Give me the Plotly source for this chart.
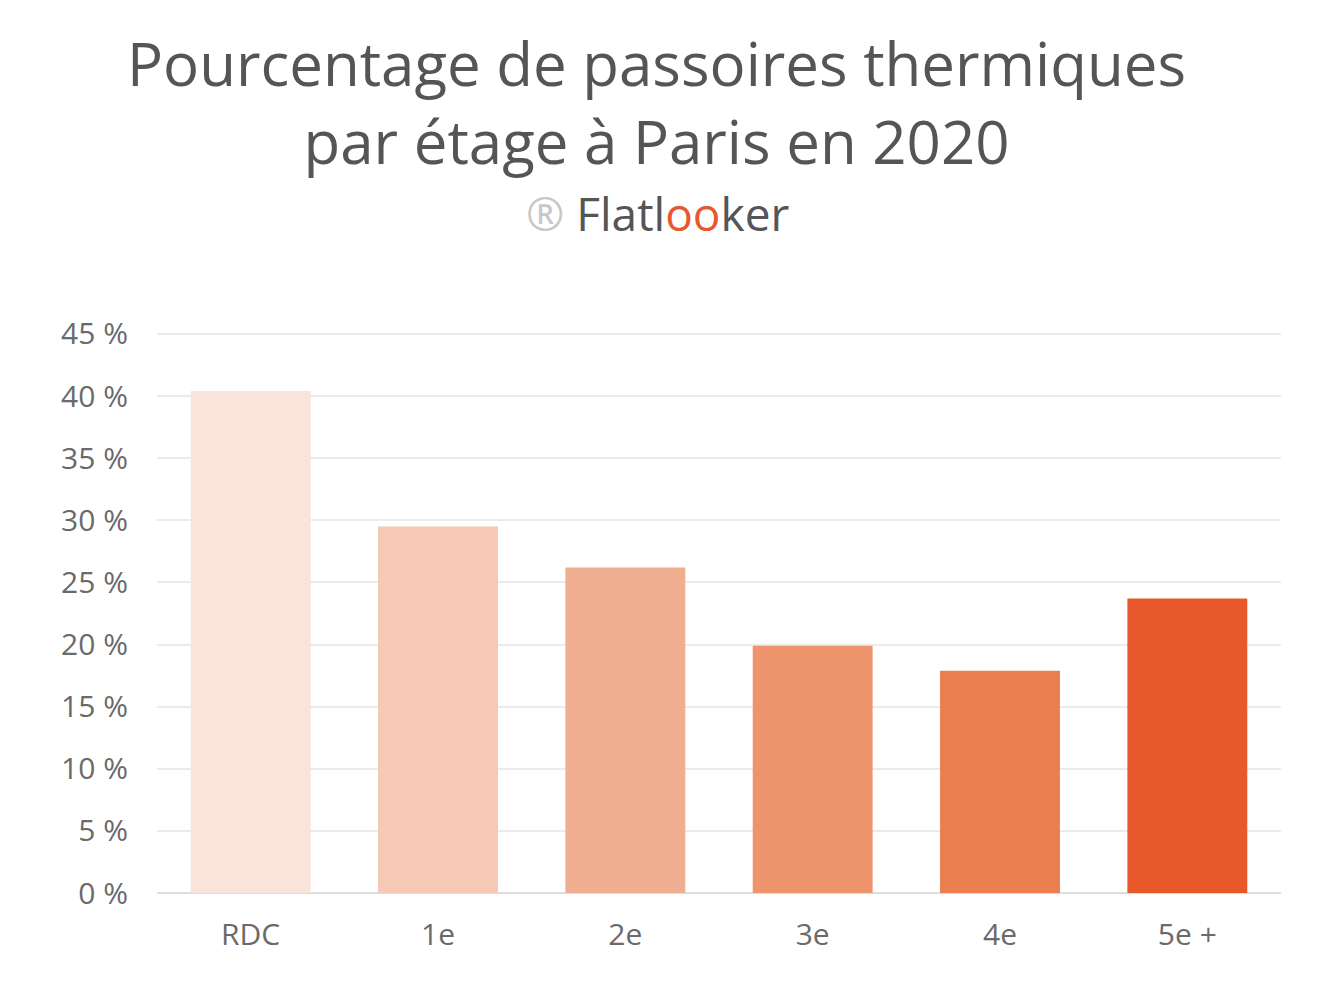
import plotly.graph_objects as go

categories = ["RDC", "1e", "2e", "3e", "4e", "5e +"]
values = [40.4, 29.5, 26.2, 19.9, 17.9, 23.7]
colors = ["#F9E3DA", "#F5C9B5", "#F0AE90", "#EE946D", "#EC7F50", "#E8582A"]
tick_vals = [0, 5, 10, 15, 20, 25, 30, 35, 40, 45]
tick_text = [f"{v} %" for v in tick_vals]

W, H = 1328, 988
M_L, M_R = 157, 47
M_T, M_B = 328, 95
plot_h = H - M_T - M_B
plot_w = W - M_L - M_R


def pix_to_paper_y(py):
    return (H - M_B - py) / plot_h


def pix_to_paper_x(px):
    return (px - M_L) / plot_w


fig = go.Figure(go.Bar(x=categories, y=values, marker=dict(color=colors, line=dict(width=0)),
                       hoverinfo="x+y"))

font_family = "'Open Sans', 'Noto Sans', sans-serif"
fig.update_layout(
    width=W, height=H,
    margin=dict(l=M_L, r=M_R, t=M_T, b=M_B),
    paper_bgcolor="white", plot_bgcolor="white",
    bargap=0.36,
    showlegend=False,
    font=dict(family=font_family, color="#666666"),
    xaxis=dict(showgrid=False, showline=False, ticks="", tickfont=dict(size=30, color="#6a6a6a"),
               ticklabelstandoff=21),
    yaxis=dict(range=[0, 45.48], tickvals=tick_vals, ticktext=tick_text, showgrid=True,
               gridcolor="#EBEBEB", gridwidth=2, zeroline=True, zerolinecolor="#DDDDDD",
               zerolinewidth=2, tickfont=dict(size=30, color="#6a6a6a"), ticklabelstandoff=28),
    annotations=[
        dict(text="Pourcentage de passoires thermiques<br>par étage à Paris en 2020",
             x=pix_to_paper_x(656), xref="paper", y=pix_to_paper_y(102), yref="paper",
             xanchor="center", yanchor="middle",
             showarrow=False, font=dict(size=60, color="#555555", family=font_family)),
        dict(text="<span style='color:#C8C8C8'>®</span> Flatl<span style='color:#E8582A'>oo</span>ker",
             x=pix_to_paper_x(657), xref="paper", y=pix_to_paper_y(213), yref="paper",
             xanchor="center", yanchor="middle",
             showarrow=False, font=dict(size=46, color="#555555", family=font_family)),
    ],
)

fig.write_html("out.html")
